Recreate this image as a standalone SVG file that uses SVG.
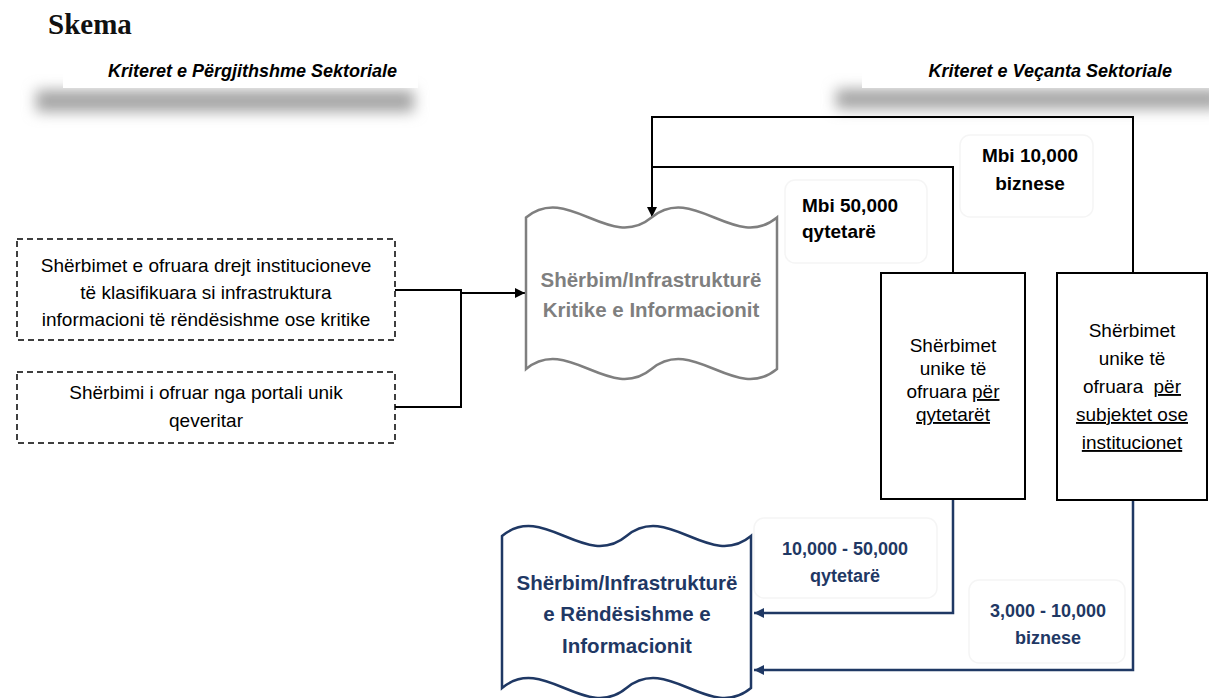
<svg xmlns="http://www.w3.org/2000/svg" width="1209" height="698" viewBox="0 0 1209 698">
  <defs>
    <filter id="blur" x="-20%" y="-100%" width="140%" height="300%">
      <feGaussianBlur stdDeviation="7"/>
    </filter>
    <marker id="arrK" viewBox="0 0 10 10" refX="10" refY="5" markerWidth="11" markerHeight="10" markerUnits="userSpaceOnUse" orient="auto">
      <path d="M0,0 L10,5 L0,10 z" fill="#000"/>
    </marker>
    <marker id="arrB" viewBox="0 0 10 10" refX="10" refY="5" markerWidth="11" markerHeight="10" markerUnits="userSpaceOnUse" orient="auto">
      <path d="M0,0 L10,5 L0,10 z" fill="#1F3864"/>
    </marker>
  </defs>
  <style>
    .t { font-family: "Liberation Sans", Arial, sans-serif; }
    .body { font-size: 19px; fill: #000; }
    .lbl { font-size: 19px; font-weight: bold; fill: #000; }
    .blbl { font-size: 18px; font-weight: bold; fill: #1F3864; }
    .hdr { font-size: 18px; font-weight: bold; font-style: italic; fill: #000; }
    .dash { fill: #fff; stroke: #000; stroke-width: 1.5; stroke-dasharray: 6 4; }
    .box { fill: #fff; stroke: #000; stroke-width: 2; }
    .lk { fill: none; stroke: #000; stroke-width: 2; }
    .lb { fill: none; stroke: #1F3864; stroke-width: 2.5; }
    .tag { fill: #fff; stroke: #f5f5f5; stroke-width: 1.5; }
    .shadow { fill: #a6a6a6; }
    .u { text-decoration: underline; }
  </style>

  <rect width="1209" height="698" fill="#fff"/>

  <text x="48" y="34" font-family="'Liberation Serif', 'Times New Roman', serif" font-weight="bold" font-size="29" fill="#111">Skema</text>

  <g id="header-left">
    <rect class="shadow" x="36" y="90" width="378" height="22" filter="url(#blur)"/>
    <rect x="63" y="48" width="355" height="40" fill="#fff"/>
    <text class="t hdr" x="108" y="77">Kriteret e Përgjithshme Sektoriale</text>
  </g>

  <g id="header-right">
    <rect class="shadow" x="836" y="89" width="385" height="20" filter="url(#blur)"/>
    <rect x="862" y="48" width="347" height="40" fill="#fff"/>
    <text class="t hdr" x="1172" y="77" text-anchor="end">Kriteret e Veçanta Sektoriale</text>
  </g>

  <g id="label-mbi50">
    <rect class="tag" x="785" y="180" width="142" height="83" rx="10"/>
    <text class="t lbl" x="802" y="212">Mbi 50,000</text>
    <text class="t lbl" x="802" y="238">qytetarë</text>
  </g>

  <g id="label-mbi10">
    <rect class="tag" x="960" y="135" width="133" height="82" rx="10"/>
    <text class="t lbl" x="1030" y="162" text-anchor="middle">Mbi 10,000</text>
    <text class="t lbl" x="1030" y="190" text-anchor="middle">biznese</text>
  </g>

  <g id="label-10-50">
    <rect class="tag" x="754" y="518" width="183" height="80" rx="10"/>
    <text class="t blbl" x="845" y="555" text-anchor="middle">10,000 - 50,000</text>
    <text class="t blbl" x="845" y="582" text-anchor="middle">qytetarë</text>
  </g>

  <g id="label-3-10">
    <rect class="tag" x="969" y="580" width="156" height="83" rx="10"/>
    <text class="t blbl" x="1048" y="617" text-anchor="middle">3,000 - 10,000</text>
    <text class="t blbl" x="1048" y="644" text-anchor="middle">biznese</text>
  </g>

  <g id="connectors">
    <path class="lk" d="M395,290 H461 V407 H395"/>
    <path class="lk" d="M461,293 H525" marker-end="url(#arrK)"/>
    <path class="lk" d="M1133,273 V117 H652 V217" marker-end="url(#arrK)"/>
    <path class="lk" d="M953,273 V167 H652"/>
    <path class="lb" d="M953,500 V613 H754" marker-end="url(#arrB)"/>
    <path class="lb" d="M1133,500 V670 H754" marker-end="url(#arrB)"/>
  </g>

  <g id="box-institucione">
    <rect class="dash" x="17" y="239" width="378" height="101"/>
    <text class="t body" x="206" y="272" text-anchor="middle">Shërbimet e ofruara drejt institucioneve</text>
    <text class="t body" x="206" y="299" text-anchor="middle">të klasifikuara si infrastruktura</text>
    <text class="t body" x="206" y="326" text-anchor="middle">informacioni të rëndësishme ose kritike</text>
  </g>

  <g id="box-portali">
    <rect class="dash" x="17" y="372" width="378" height="71"/>
    <text class="t body" x="206" y="399" text-anchor="middle">Shërbimi i ofruar nga portali unik</text>
    <text class="t body" x="206" y="427" text-anchor="middle">qeveritar</text>
  </g>

  <g id="node-kritike">
    <path d="M526,217.5 C567.8,182.9 609.7,252.1 651.5,217.5 C693.3,182.9 735.2,252.1 777,217.5 L777,369 C735.2,403.6 693.3,334.4 651.5,369 C609.7,403.6 567.8,334.4 526,369 Z" fill="#fff" stroke="#7F7F7F" stroke-width="2.5"/>
    <text class="t" x="651" y="287" text-anchor="middle" font-size="20.5" font-weight="bold" fill="#7F7F7F">Shërbim/Infrastrukturë</text>
    <text class="t" x="651" y="317" text-anchor="middle" font-size="20.5" font-weight="bold" fill="#7F7F7F">Kritike e Informacionit</text>
  </g>

  <g id="node-qytetaret">
    <rect class="box" x="881" y="273" width="144" height="226"/>
    <text class="t body" x="953" y="352" text-anchor="middle">Shërbimet</text>
    <text class="t body" x="953" y="375" text-anchor="middle">unike të</text>
    <text class="t body" x="953" y="398" text-anchor="middle">ofruara <tspan class="u">për</tspan></text>
    <text class="t body u" x="953" y="421" text-anchor="middle">qytetarët</text>
  </g>

  <g id="node-subjektet">
    <rect class="box" x="1057" y="273" width="150" height="227"/>
    <text class="t body" x="1132" y="337" text-anchor="middle">Shërbimet</text>
    <text class="t body" x="1132" y="365" text-anchor="middle">unike të</text>
    <text class="t body" x="1132" y="393" text-anchor="middle">ofruara <tspan class="u" dx="5">për</tspan></text>
    <text class="t body u" x="1132" y="421" text-anchor="middle">subjektet ose</text>
    <text class="t body u" x="1132" y="449" text-anchor="middle">institucionet</text>
  </g>

  <g id="node-rendesishme">
    <path d="M502,536 C543.5,501.4 585,570.6 626.5,536 C668,501.4 709.5,570.6 751,536 L751,688 C709.5,722.6 668,653.4 626.5,688 C585,722.6 543.5,653.4 502,688 Z" fill="#fff" stroke="#1F3864" stroke-width="2.5"/>
    <text class="t" x="627" y="590" text-anchor="middle" font-size="20.5" font-weight="bold" fill="#1F3864">Shërbim/Infrastrukturë</text>
    <text class="t" x="627" y="621" text-anchor="middle" font-size="20.5" font-weight="bold" fill="#1F3864">e Rëndësishme e</text>
    <text class="t" x="627" y="653" text-anchor="middle" font-size="20.5" font-weight="bold" fill="#1F3864">Informacionit</text>
  </g>
</svg>
